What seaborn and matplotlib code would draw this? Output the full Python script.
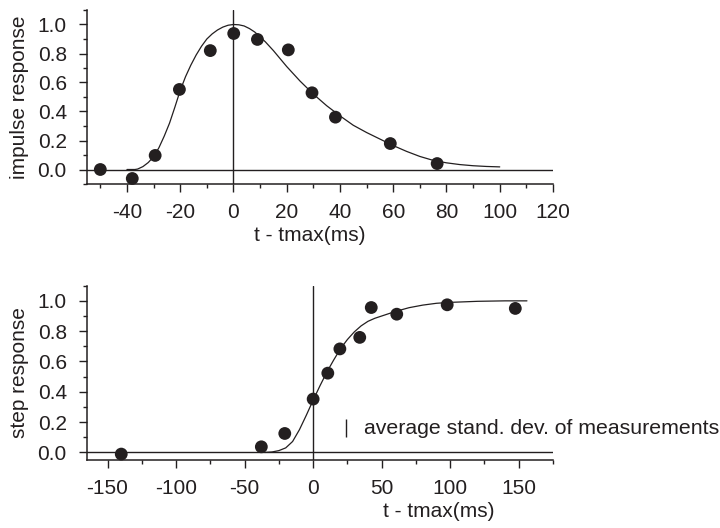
import numpy as np
import pandas as pd
import matplotlib
matplotlib.use("Agg")
import matplotlib.pyplot as plt
from matplotlib.ticker import MultipleLocator
import seaborn as sns

# ---------------- data ----------------
# impulse response: measured points
imp_t = [-50, -38, -29.4, -20.3, -8.7, 0.1, 9.0, 20.6, 29.5, 38.3, 58.9, 76.5]
imp_y = [0.0, -0.062, 0.097, 0.552, 0.82, 0.938, 0.897, 0.825, 0.529, 0.361, 0.179, 0.041]
# impulse response: fitted curve
imp_fit_t = [-40, -37, -36, -34, -32, -30, -28, -26, -24, -22, -20, -18, -16, -14, -12,
             -10, -8, -6, -4, -2, 0, 2, 4, 6, 8, 10, 12, 15, 20, 25, 30, 35, 40,
             45, 50, 55, 60, 65, 70, 75, 80, 85, 90, 95, 100]
imp_fit_y = [0.0, 0.0, 0.003, 0.02, 0.048, 0.088, 0.15, 0.23, 0.32, 0.43, 0.545, 0.64,
             0.72, 0.79, 0.85, 0.90, 0.935, 0.962, 0.982, 0.995, 1.0, 0.998, 0.99, 0.972,
             0.948, 0.915, 0.88, 0.82, 0.71, 0.61, 0.52, 0.44, 0.37, 0.305, 0.255,
             0.21, 0.165, 0.125, 0.09, 0.063, 0.046, 0.034, 0.026, 0.021, 0.018]

# step response: measured points
step_t = [-140, -37.8, -20.7, 0, 10.7, 19.5, 34, 42.4, 61, 97.8, 147.5]
step_y = [-0.011, 0.037, 0.125, 0.352, 0.523, 0.683, 0.759, 0.956, 0.912, 0.974, 0.95]
# step response: fitted curve
step_fit_t = [-35, -30, -25, -20, -15, -10, -5, 0, 5, 10, 15, 20, 25, 30, 35, 40, 45,
              50, 60, 70, 80, 90, 100, 120, 140, 156]
step_fit_y = [0.0, 0.003, 0.012, 0.03, 0.072, 0.15, 0.245, 0.345, 0.44, 0.53, 0.61,
              0.685, 0.745, 0.795, 0.835, 0.865, 0.885, 0.90, 0.93, 0.955, 0.972,
              0.984, 0.99, 0.997, 1.0, 1.0]

# SD bar and annotation
sd_x = 24
sd_lo, sd_hi = 0.10, 0.22
note = "average stand. dev. of measurements"

imp_df = pd.DataFrame({"t": imp_t, "y": imp_y})
imp_fit = pd.DataFrame({"t": imp_fit_t, "y": imp_fit_y})
step_df = pd.DataFrame({"t": step_t, "y": step_y})
step_fit = pd.DataFrame({"t": step_fit_t, "y": step_fit_y})

# ---------------- style ----------------
sns.set_theme(style="ticks")
plt.rcParams["font.family"] = ["Liberation Sans", "DejaVu Sans"]
ink = "#231f20"
FS = 15
plt.rcParams.update({
    "font.size": FS,
    "text.color": ink,
    "axes.labelcolor": ink,
    "xtick.color": ink,
    "ytick.color": ink,
    "axes.edgecolor": ink,
    "axes.linewidth": 1.1,
    "axes.unicode_minus": False,
})

fig = plt.figure(figsize=(7.2, 5.28), dpi=100)
ax1 = fig.add_axes([87 / 720, 1 - 184 / 528, (553 - 87) / 720, (184 - 10) / 528])
ax2 = fig.add_axes([87 / 720, 1 - 460 / 528, (553 - 87) / 720, (460 - 285.7) / 528])


def style_axes(ax, xmaj, xmin, xlim, ylim):
    ax.set_xlim(*xlim)
    ax.set_ylim(*ylim)
    ax.xaxis.set_major_locator(MultipleLocator(xmaj))
    ax.xaxis.set_minor_locator(MultipleLocator(xmin))
    ax.yaxis.set_major_locator(MultipleLocator(0.2))
    ax.yaxis.set_minor_locator(MultipleLocator(0.1))
    ax.yaxis.set_major_formatter(matplotlib.ticker.FormatStrFormatter("%.1f"))
    for s in ("top", "right"):
        ax.spines[s].set_visible(False)
    ax.tick_params(axis="both", which="major", length=6, width=1.0, labelsize=FS)
    ax.tick_params(axis="both", which="minor", length=3, width=1.0)
    ax.tick_params(axis="x", which="major", pad=7.5)
    ax.tick_params(axis="y", which="major", pad=8.5)
    ax.axhline(0, color=ink, lw=1.0, zorder=1)
    ax.axvline(0, color=ink, lw=1.0, zorder=1)


# ---- top panel ----
style_axes(ax1, 20, 10, (-55, 120), (-0.1, 1.1))
sns.lineplot(data=imp_fit, x="t", y="y", ax=ax1, color=ink, lw=0.9,
             sort=False, estimator=None, zorder=2)
sns.scatterplot(data=imp_df, x="t", y="y", ax=ax1, color=ink, s=85,
                edgecolor="none", zorder=3, clip_on=False)
ax1.set_xlabel("t - tmax(ms)", fontsize=FS, labelpad=3)
ax1.set_ylabel("impulse response", fontsize=FS, labelpad=6)
ax1.xaxis.label.set_x(0.478)

# ---- bottom panel ----
style_axes(ax2, 50, 25, (-165, 175), (-0.05, 1.1))
sns.lineplot(data=step_fit, x="t", y="y", ax=ax2, color=ink, lw=0.9,
             sort=False, estimator=None, zorder=2)
sns.scatterplot(data=step_df, x="t", y="y", ax=ax2, color=ink, s=85,
                edgecolor="none", zorder=3, clip_on=False)
ax2.vlines(sd_x, sd_lo, sd_hi, color=ink, lw=1.0)
ax2.text(37, 0.16, note, fontsize=15.3, va="center", ha="left", color=ink)
ax2.set_xlabel("t - tmax(ms)", fontsize=FS, labelpad=3)
ax2.set_ylabel("step response", fontsize=FS, labelpad=6)
ax2.xaxis.label.set_x(0.755)

fig.savefig("out.png", dpi=100)
